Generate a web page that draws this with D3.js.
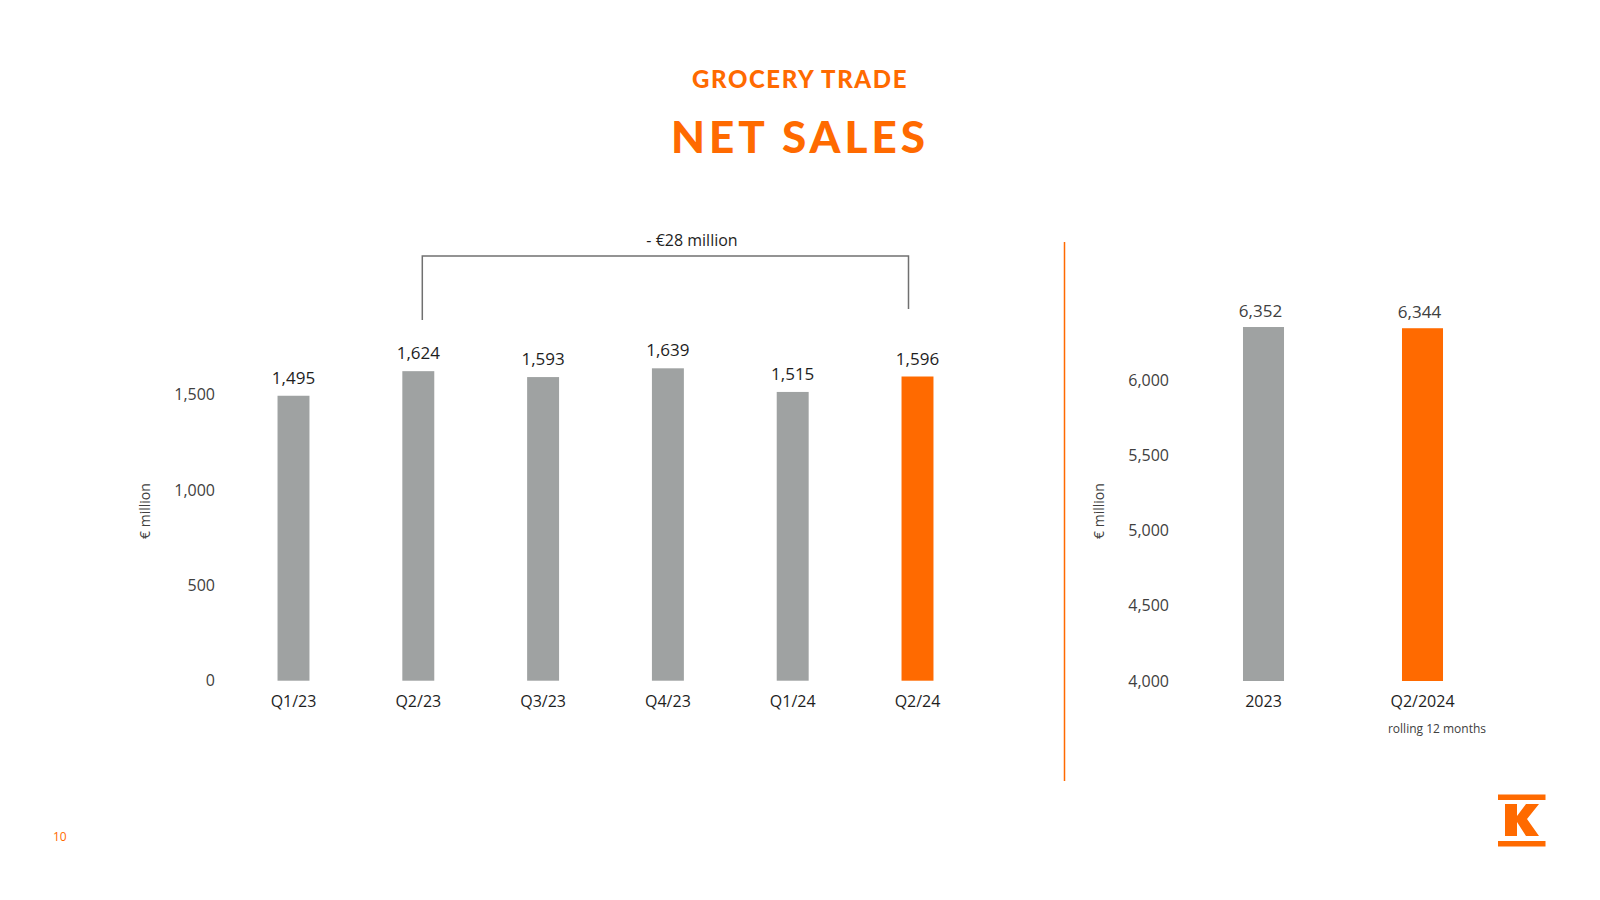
<!DOCTYPE html>
<html>
<head>
<meta charset="utf-8">
<script src="https://cdn.jsdelivr.net/npm/d3@7"></script>
<style>
  html, body { margin: 0; padding: 0; background: #ffffff; }
  svg { display: block; }
  text { font-family: "Open Sans", "Noto Sans", sans-serif; }
</style>
</head>
<body>
<svg id="chart" width="1600" height="900"></svg>
<script>
// ---- data ----
const quarters = ["Q1/23", "Q2/23", "Q3/23", "Q4/23", "Q1/24", "Q2/24"];
const quarterSales = [1495, 1624, 1593, 1639, 1515, 1596];
const quarterTicks = [0, 500, 1000, 1500];
const annualCats = ["2023", "Q2/2024"];
const annualSales = [6352, 6344];
const annualTicks = [4000, 4500, 5000, 5500, 6000];
const highlightQuarter = "Q2/24";
const highlightAnnual = "Q2/2024";
const bracketFrom = "Q2/23", bracketTo = "Q2/24";
const bracketLabel = "- €28 million";

const ORANGE = "#ff6a00", GREY = "#9fa2a2", TXT = "#1e1e1e", TICK = "#404040";
const fmt = d3.format(",");
const svg = d3.select("#chart");

// ---- titles ----
svg.append("text").attr("x", 800).attr("y", 87.5).attr("text-anchor", "middle")
  .attr("fill", ORANGE).style("font-family", "Lato, sans-serif").style("font-weight", 900)
  .style("font-size", "24px").style("letter-spacing", "1.6px").text("GROCERY TRADE");
svg.append("text").attr("x", 800).attr("y", 152.5).attr("text-anchor", "middle")
  .attr("fill", ORANGE).style("font-family", "Lato, sans-serif").style("font-weight", 900)
  .style("font-size", "44px").style("letter-spacing", "4px").text("NET SALES");

// ---- left chart ----
const x1 = d3.scaleBand().domain(quarters).range([231.1, 979.9]).paddingInner(0.744).paddingOuter(0.372);
const y1 = d3.scaleLinear().domain([0, 1500]).range([680.7, 394.8]);

const yAx1 = svg.append("g").attr("transform", "translate(215,0)")
  .call(d3.axisLeft(y1).tickValues(quarterTicks).tickFormat(fmt).tickSize(0).tickPadding(0));
yAx1.select(".domain").remove();
yAx1.selectAll("text").attr("fill", TICK).style("font-size", "16px").style("font-family", "'Open Sans', sans-serif");

const xAx1 = svg.append("g").attr("transform", "translate(0,680.7)")
  .call(d3.axisBottom(x1).tickSize(0).tickPadding(15));
xAx1.select(".domain").remove();
xAx1.selectAll("text").attr("fill", TXT).style("font-size", "16px").style("font-family", "'Open Sans', sans-serif");

svg.append("g").selectAll("rect").data(quarters).join("rect")
  .attr("x", d => x1(d)).attr("width", x1.bandwidth())
  .attr("y", (d, i) => y1(quarterSales[i]))
  .attr("height", (d, i) => y1(0) - y1(quarterSales[i]))
  .attr("fill", d => d === highlightQuarter ? ORANGE : GREY);

svg.append("g").selectAll("text").data(quarters).join("text")
  .attr("x", d => x1(d) + x1.bandwidth() / 2)
  .attr("y", (d, i) => y1(quarterSales[i]) - 12)
  .attr("text-anchor", "middle").attr("fill", TXT).style("font-size", "17px")
  .text((d, i) => fmt(quarterSales[i]));

svg.append("text").attr("transform", "translate(150,511) rotate(-90)")
  .attr("text-anchor", "middle").attr("fill", TICK).style("font-size", "14px").text("€ million");

// bracket
const bx0 = x1(bracketFrom) + x1.bandwidth() / 2 + 4;
const bx1 = x1(bracketTo) + x1.bandwidth() / 2 - 9;
svg.append("path")
  .attr("d", d3.line()([[bx0, 320], [bx0, 256], [bx1, 256], [bx1, 309]]))
  .attr("fill", "none").attr("stroke", "#707070").attr("stroke-width", 1.5);
svg.append("text").attr("x", 692).attr("y", 246).attr("text-anchor", "middle")
  .attr("fill", TXT).style("font-size", "16px").text(bracketLabel);

// divider
svg.append("line").attr("x1", 1064.5).attr("x2", 1064.5).attr("y1", 242).attr("y2", 781)
  .attr("stroke", ORANGE).attr("stroke-width", 1.5);

// ---- right chart ----
const x2 = d3.scaleBand().domain(annualCats).range([1184, 1502]).paddingInner(0.742).paddingOuter(0.371);
const y2 = d3.scaleLinear().domain([4000, 6000]).range([681, 380]);

const yAx2 = svg.append("g").attr("transform", "translate(1169,0)")
  .call(d3.axisLeft(y2).tickValues(annualTicks).tickFormat(fmt).tickSize(0).tickPadding(0));
yAx2.select(".domain").remove();
yAx2.selectAll("text").attr("fill", TICK).style("font-size", "16px").style("font-family", "'Open Sans', sans-serif");

const xAx2 = svg.append("g").attr("transform", "translate(0,681)")
  .call(d3.axisBottom(x2).tickSize(0).tickPadding(15));
xAx2.select(".domain").remove();
xAx2.selectAll("text").attr("fill", TXT).style("font-size", "16px").style("font-family", "'Open Sans', sans-serif");

svg.append("g").selectAll("rect").data(annualCats).join("rect")
  .attr("x", d => x2(d)).attr("width", x2.bandwidth())
  .attr("y", (d, i) => y2(annualSales[i]))
  .attr("height", (d, i) => y2(4000) - y2(annualSales[i]))
  .attr("fill", d => d === highlightAnnual ? ORANGE : GREY);

svg.append("g").selectAll("text").data(annualCats).join("text")
  .attr("x", d => x2(d) + x2.bandwidth() / 2 - 3)
  .attr("y", (d, i) => y2(annualSales[i]) - 10)
  .attr("text-anchor", "middle").attr("fill", TICK).style("font-size", "17px")
  .text((d, i) => fmt(annualSales[i]));

svg.append("text").attr("x", 1437).attr("y", 733).attr("text-anchor", "middle")
  .attr("fill", "#404040").style("font-size", "12px").text("rolling 12 months");

svg.append("text").attr("transform", "translate(1104,511) rotate(-90)")
  .attr("text-anchor", "middle").attr("fill", TICK).style("font-size", "14px").text("€ million");

// ---- page number ----
svg.append("text").attr("x", 53).attr("y", 841).attr("fill", ORANGE)
  .style("font-size", "12px").text("10");

// ---- logo ----
const logo = svg.append("g").attr("fill", ORANGE);
logo.append("rect").attr("x", 1498).attr("y", 794.5).attr("width", 47.5).attr("height", 5.5);
logo.append("rect").attr("x", 1498).attr("y", 841).attr("width", 47.5).attr("height", 5.5);
logo.append("path").attr("d",
  "M1505,804 L1517,804 L1517,816 L1526,804 L1539,804 L1527,819 L1539,836 L1526,836 L1517,822 L1517,836 L1505,836 Z");
</script>
</body>
</html>
